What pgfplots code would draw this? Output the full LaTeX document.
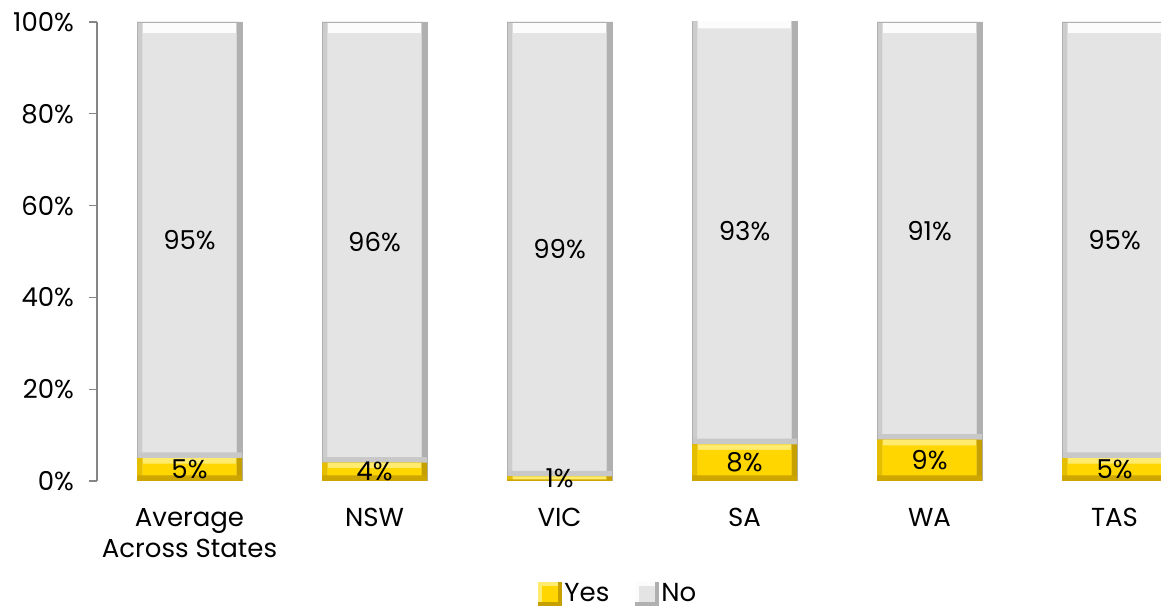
\documentclass[border=0pt]{standalone}
\usepackage{pgfplots}
\usepackage{pgfplotstable}
\pgfplotsset{compat=1.18}
\usepackage{fontspec}
\setmainfont{Poppins}

\definecolor{yesfill}{RGB}{255,214,0}
\definecolor{yeslight}{RGB}{255,236,110}
\definecolor{yesright}{RGB}{198,160,0}
\definecolor{yesleft}{RGB}{230,190,0}
\definecolor{yesbottom}{RGB}{205,166,0}
\definecolor{nofill}{RGB}{228,228,228}
\definecolor{nolight}{RGB}{252,252,252}
\definecolor{noright}{RGB}{176,176,176}
\definecolor{noleft}{RGB}{204,204,204}
\definecolor{nobottom}{RGB}{200,200,200}
\definecolor{axisgray}{RGB}{134,134,134}

% share of respondents per state
\pgfplotstableread{
x yes no
0 5 95
1 4 96
2 1 99
3 8 93
4 9 91
5 5 95
}\answers

\newcommand{\bev}{1.22}   % bevel depth in axis units (2.8pt)
\newcommand{\topbev}{2.4} % deeper highlight on top of the No bars

\begin{document}
\begin{tikzpicture}
\begin{axis}[
  at={(48.5pt,63.5pt)}, anchor=south west,
  scale only axis, width=532pt, height=229.5pt,
  xmin=-0.5, xmax=5.251, ymin=0, ymax=100,
  ybar, bar width=52.5pt,
  every axis plot/.append style={bar shift=0pt, draw=none},
  axis x line*=bottom,
  x axis line style={draw=none},
  xtick={0,1,2,3,4,5},
  xticklabels={{Average\\Across States},NSW,VIC,SA,WA,TAS},
  xticklabel style={font=\fontsize{13}{15.5}\selectfont, align=center, anchor=north, yshift=-6pt},
  x tick style={draw=none},
  axis y line*=left,
  y axis line style={axisgray, line width=0.6pt},
  ytick={0,20,40,60,80,100},
  yticklabel={\pgfmathprintnumber{\tick}\%},
  y tick style={axisgray, line width=0.6pt},
  tick align=outside, major tick length=4pt,
  yticklabel style={font=\fontsize{13}{15}\selectfont, xshift=-4pt},
  /pgf/number format/assume math mode=true,
  legend style={at={(0.49,-0.246)}, anchor=center, draw=none, fill=none,
    inner sep=0pt, outer sep=0pt,
    font=\fontsize{13}{15}\selectfont, legend columns=2,
    nodes={inner sep=1pt},
    /tikz/every even column/.append style={column sep=12pt}},
]
% --- No segments (drawn full height, Yes painted over their base)
\addplot[forget plot, fill=noright] table[x=x, y expr=\thisrow{yes}+\thisrow{no}] {\answers};
\addplot[forget plot, fill=noleft, bar width=49.7pt, bar shift=-1.4pt]
  table[x=x, y expr=\thisrow{yes}+\thisrow{no}] {\answers};
\addplot[forget plot, fill=nolight, bar width=46.9pt]
  table[x=x, y expr=\thisrow{yes}+\thisrow{no}] {\answers};
\addplot[forget plot, fill=nofill, bar width=46.9pt]
  table[x=x, y expr=\thisrow{yes}+\thisrow{no}-\topbev] {\answers};
\addplot[forget plot, fill=nobottom] table[x=x, y expr=\thisrow{yes}+\bev] {\answers};
% outline of the whole column
\addplot[forget plot, fill=none, draw=noright, line width=0.4pt]
  table[x=x, y expr=\thisrow{yes}+\thisrow{no}] {\answers};
% --- Yes segments
\addplot[forget plot, fill=yesright] table[x=x, y=yes] {\answers};
\addplot[forget plot, fill=yesleft, bar width=49.7pt, bar shift=-1.4pt] table[x=x, y=yes] {\answers};
\addplot[forget plot, fill=yeslight, bar width=46.9pt] table[x=x, y=yes] {\answers};
\addplot[forget plot, fill=yesfill, bar width=46.9pt] table[x=x, y expr=\thisrow{yes}-\bev] {\answers};
\addplot[forget plot, fill=yesbottom] table[x=x, y expr={min(\thisrow{yes}/3,\bev)}] {\answers};
% --- value labels, centred in each segment
\addplot[forget plot, fill=none, draw=none, nodes near coords={\pgfmathprintnumber{\pgfplotspointmeta}\%},
  point meta=\thisrow{yes},
  every node near coord/.append style={anchor=center, font=\fontsize{13}{15}\selectfont}]
  table[x=x, y expr=\thisrow{yes}/2] {\answers};
\addplot[forget plot, fill=none, draw=none, nodes near coords={\pgfmathprintnumber{\pgfplotspointmeta}\%},
  point meta=\thisrow{no},
  every node near coord/.append style={anchor=center, font=\fontsize{13}{15}\selectfont}]
  table[x=x, y expr=\thisrow{yes}+\thisrow{no}/2] {\answers};
% --- legend
\addlegendimage{legend image code/.code={
  \fill[yesright] (-12pt,-6pt) rectangle (0pt,6pt);
  \fill[yeslight] (-12pt,-4pt) rectangle (-2pt,6pt);
  \fill[yesfill] (-10pt,-4pt) rectangle (-2pt,4pt);}}
\addlegendentry{Yes}
\addlegendimage{legend image code/.code={
  \fill[noright] (-12pt,-6pt) rectangle (0pt,6pt);
  \fill[nolight] (-12pt,-4pt) rectangle (-2pt,6pt);
  \fill[nofill] (-10pt,-4pt) rectangle (-2pt,4pt);}}
\addlegendentry{No}
\end{axis}

\pgfresetboundingbox
\useasboundingbox (0,0) rectangle (580.5pt,304pt);
\end{tikzpicture}
\end{document}
